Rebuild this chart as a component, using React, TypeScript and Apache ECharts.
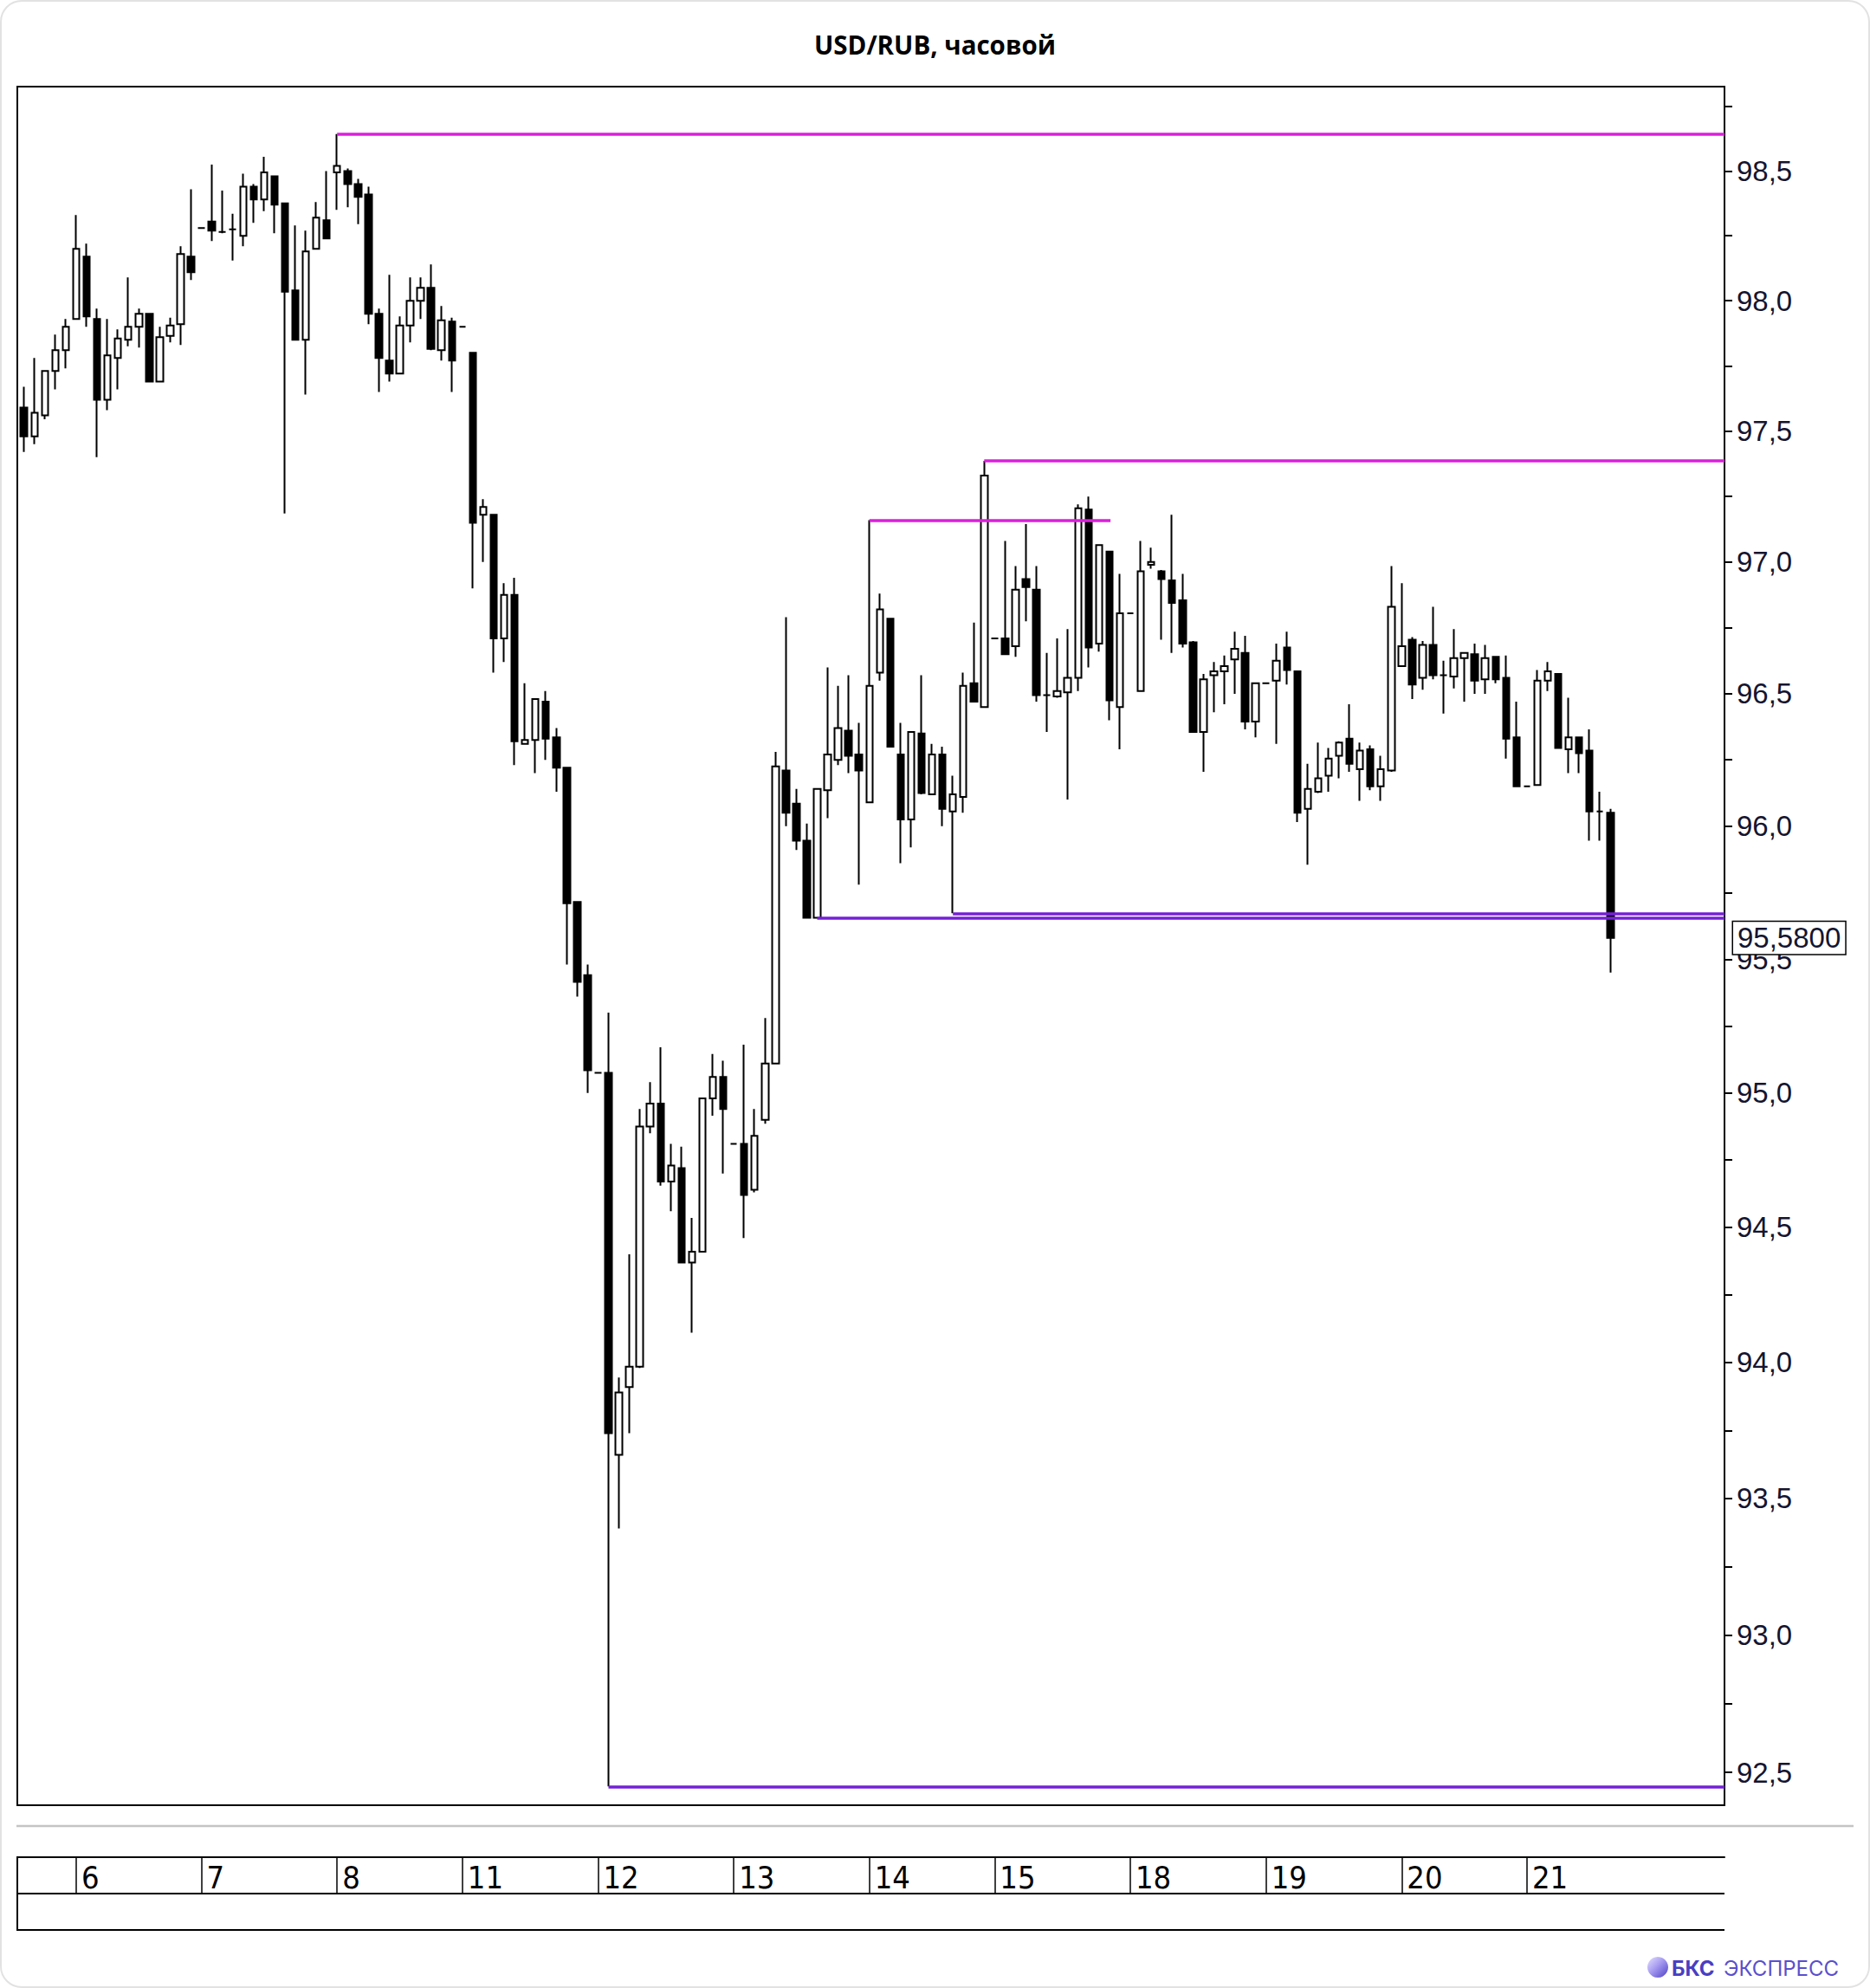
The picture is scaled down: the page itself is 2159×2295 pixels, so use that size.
import React, { useEffect, useRef } from "react";
import * as echarts from "echarts";

const TITLE = "USD/RUB, часовой";
const LAST_PRICE_LABEL = "95,5800";
const LAST_PRICE = 95.58;

const DAY_LABELS = ["6", "7", "8", "11", "12", "13", "14", "15", "18", "19", "20", "21"];
const DAY_START_INDEX = [5, 17, 30, 42, 55, 68, 81, 93, 106, 119, 132, 144];

const OPEN = [
  97.59, 97.48, 97.56, 97.73, 97.81, 97.93, 98.17, 97.93, 97.62, 97.78,
  97.85, 97.9, 97.95, 97.69, 97.865, 97.91, 98.17, 98.28, 98.305, 98.265,
  98.275, 98.25, 98.44, 98.39, 98.48, 98.375, 98.04, 97.85, 98.2, 98.31,
  98.495, 98.5, 98.45, 98.41, 97.95, 97.77, 97.72, 97.905, 98.0, 98.05,
  97.81, 97.92, 97.9, 97.8, 97.18, 97.18, 96.71, 96.875, 96.31, 96.325,
  96.47, 96.335, 96.22, 95.715, 95.44, 95.075, 95.075, 93.66, 93.91, 93.985,
  94.875, 94.96, 94.67, 94.72, 94.37, 94.41, 94.98, 95.06, 94.81, 94.81,
  94.64, 94.9, 95.11, 96.21, 96.085, 95.945, 95.655, 96.135, 96.25, 96.36,
  96.27, 96.09, 96.58, 96.785, 96.27, 96.025, 96.35, 96.12, 96.27, 96.055,
  96.11, 96.54, 96.45, 96.71, 96.71, 96.68, 96.935, 96.895, 96.495, 96.49,
  96.505, 96.56, 97.2, 96.69, 97.04, 96.45, 96.805, 96.51, 96.99, 96.965,
  96.93, 96.855, 96.695, 96.355, 96.57, 96.585, 96.63, 96.655, 96.395, 96.54,
  96.55, 96.675, 96.585, 96.065, 96.13, 96.19, 96.265, 96.33, 96.215, 96.29,
  96.15, 96.21, 96.605, 96.705, 96.56, 96.685, 96.57, 96.565, 96.635, 96.65,
  96.555, 96.64, 96.56, 96.335, 96.15, 96.155, 96.55, 96.575, 96.29, 96.335,
  96.285, 96.055, 96.05,
];
const CLOSE = [
  97.48, 97.57, 97.73, 97.81, 97.9, 98.2, 97.94, 97.62, 97.79, 97.855,
  97.9, 97.95, 97.69, 97.86, 97.905, 98.18, 98.11, 98.28, 98.27, 98.265,
  98.275, 98.44, 98.39, 98.495, 98.37, 98.035, 97.85, 98.19, 98.32, 98.24,
  98.52, 98.45, 98.4, 97.95, 97.78, 97.72, 97.905, 98.0, 98.05, 97.815,
  97.925, 97.77, 97.9, 97.15, 97.21, 96.71, 96.875, 96.32, 96.325, 96.48,
  96.33, 96.22, 95.71, 95.415, 95.085, 95.075, 93.74, 93.89, 93.985, 94.875,
  94.96, 94.67, 94.73, 94.37, 94.41, 94.98, 95.06, 94.94, 94.81, 94.62,
  94.84, 95.11, 96.225, 96.05, 95.945, 95.655, 96.14, 96.27, 96.37, 96.265,
  96.21, 96.53, 96.82, 96.3, 96.025, 96.355, 96.125, 96.27, 96.065, 96.12,
  96.53, 96.47, 97.33, 96.71, 96.65, 96.895, 96.905, 96.495, 96.495, 96.51,
  96.56, 97.205, 96.675, 97.065, 96.475, 96.805, 96.805, 96.965, 97.0, 96.935,
  96.845, 96.69, 96.355, 96.555, 96.585, 96.605, 96.67, 96.395, 96.54, 96.54,
  96.625, 96.59, 96.05, 96.14, 96.18, 96.255, 96.315, 96.235, 96.285, 96.15,
  96.215, 96.83, 96.68, 96.535, 96.685, 96.57, 96.57, 96.635, 96.655, 96.55,
  96.635, 96.555, 96.33, 96.15, 96.15, 96.55, 96.585, 96.295, 96.335, 96.275,
  96.055, 96.055, 95.58,
];
const LOW = [
  97.42, 97.45, 97.545, 97.66, 97.74, 97.93, 97.9, 97.4, 97.58, 97.66,
  97.825, 97.82, 97.687, 97.69, 97.84, 97.83, 98.08, 98.28, 98.23, 98.26,
  98.155, 98.21, 98.3, 98.345, 98.26, 97.185, 97.85, 97.64, 98.2, 98.24,
  98.35, 98.36, 98.295, 97.91, 97.65, 97.69, 97.72, 97.84, 97.93, 97.81,
  97.77, 97.65, 97.9, 96.9, 97.0, 96.58, 96.62, 96.23, 96.31, 96.2,
  96.25, 96.13, 95.48, 95.36, 95.0, 95.075, 92.449, 93.39, 93.74, 93.98,
  94.85, 94.655, 94.56, 94.37, 94.11, 94.41, 94.915, 94.7, 94.81, 94.46,
  94.63, 94.885, 95.11, 96.0, 95.91, 95.655, 95.655, 96.03, 96.23, 96.2,
  95.78, 96.09, 96.55, 96.3, 95.86, 95.92, 96.12, 96.12, 96.0, 95.672,
  96.05, 96.47, 96.45, 96.71, 96.65, 96.64, 96.775, 96.47, 96.355, 96.485,
  96.1, 96.51, 96.6, 96.66, 96.4, 96.29, 96.805, 96.51, 96.975, 96.705,
  96.655, 96.675, 96.355, 96.205, 96.43, 96.46, 96.5, 96.365, 96.335, 96.54,
  96.31, 96.535, 96.015, 95.855, 96.125, 96.13, 96.18, 96.205, 96.095, 96.135,
  96.095, 96.205, 96.605, 96.48, 96.515, 96.555, 96.425, 96.52, 96.47, 96.5,
  96.5, 96.54, 96.255, 96.15, 96.15, 96.155, 96.51, 96.295, 96.2, 96.2,
  95.945, 95.945, 95.45,
];
const HIGH = [
  97.67, 97.78, 97.73, 97.87, 97.93, 98.33, 98.22, 97.97, 97.93, 97.89,
  98.09, 97.97, 97.95, 97.9, 97.935, 98.21, 98.43, 98.28, 98.525, 98.425,
  98.335, 98.49, 98.45, 98.555, 98.48, 98.375, 98.29, 98.27, 98.38, 98.5,
  98.643, 98.51, 98.47, 98.44, 97.97, 98.1, 97.94, 98.09, 98.09, 98.14,
  97.98, 97.935, 97.9, 97.8, 97.24, 97.18, 96.92, 96.94, 96.54, 96.48,
  96.51, 96.37, 96.22, 95.715, 95.48, 95.075, 95.3, 93.945, 94.4, 94.94,
  95.04, 95.17, 94.81, 94.8, 94.535, 94.98, 95.145, 95.12, 94.81, 95.18,
  94.94, 95.28, 96.28, 96.79, 96.14, 96.01, 96.14, 96.6, 96.53, 96.57,
  96.39, 97.16, 96.88, 96.785, 96.39, 96.355, 96.57, 96.31, 96.3, 96.19,
  96.58, 96.77, 97.386, 96.71, 97.08, 96.985, 97.145, 96.985, 96.655, 96.71,
  96.745, 97.22, 97.25, 97.065, 97.04, 96.955, 96.805, 97.08, 97.055, 96.97,
  97.18, 96.955, 96.7, 96.575, 96.62, 96.645, 96.735, 96.72, 96.54, 96.54,
  96.69, 96.735, 96.585, 96.235, 96.315, 96.295, 96.32, 96.46, 96.315, 96.305,
  96.265, 96.985, 96.92, 96.715, 96.7, 96.83, 96.625, 96.745, 96.655, 96.69,
  96.685, 96.64, 96.645, 96.47, 96.15, 96.59, 96.62, 96.575, 96.485, 96.335,
  96.365, 96.13, 96.065,
];

// horizontal levels: start candle index, end candle index (null = right edge), price
const LEVEL_START = [30, 92, 81, 56, 76, 89];
const LEVEL_END = [null, null, 104.1, null, null, null];
const LEVEL_PRICE = [98.643, 97.386, 97.16, 92.449, 95.655, 95.672];
const LEVEL_KIND = ["res", "res", "res", "sup", "sup", "sup"];

const Y_LABELS = [92.5, 93, 93.5, 94, 94.5, 95, 95.5, 96, 96.5, 97, 97.5, 98, 98.5];
const Y_TICKS = [
  92.5, 92.75, 93, 93.25, 93.5, 93.75, 94, 94.25, 94.5, 94.75, 95, 95.25, 95.5,
  95.75, 96, 96.25, 96.5, 96.75, 97, 97.25, 97.5, 97.75, 98, 98.25, 98.5, 98.75,
];

const X_MIN = -0.643;
const X_MAX = 162.93;
const Y_MIN = 92.381;
const Y_MAX = 98.827;

const RES_COLOR = "#dc1edc";
const SUP_COLOR = "#7420d6";
const AXIS_FONT = "'Liberation Sans', Arial, sans-serif";

export default function App() {
  const ref = useRef<HTMLDivElement>(null);

  useEffect(() => {
    const el = ref.current;
    if (!el) return;
    const chart = echarts.init(el, null, { renderer: "svg" });

    const candles = OPEN.map((o, i) => [i, o, CLOSE[i], LOW[i], HIGH[i]]);

    const levelLines: any[] = LEVEL_PRICE.map((p, k) => [
      {
        coord: [LEVEL_START[k], p],
        lineStyle: {
          color: LEVEL_KIND[k] === "res" ? RES_COLOR : SUP_COLOR,
          width: 3.5,
          type: "solid",
        },
        label: { show: false },
      },
      { coord: [LEVEL_END[k] == null ? X_MAX : LEVEL_END[k], p] },
    ]);

    const priceTag = {
      yAxis: LAST_PRICE,
      lineStyle: { color: "rgba(0,0,0,0)", width: 0 },
      label: {
        show: true,
        position: "end",
        distance: 10,
        formatter: LAST_PRICE_LABEL,
        fontSize: 33,
        fontFamily: AXIS_FONT,
        color: "#151530",
        backgroundColor: "#ffffff",
        borderColor: "#000000",
        borderWidth: 1.5,
        padding: [3, 5, 1, 5],
      },
    };

    const option: any = {
      animation: false,
      backgroundColor: "#ffffff",
      grid: {
        left: 20,
        top: 100,
        width: 1971,
        height: 1984,
        show: true,
        borderColor: "#000000",
        borderWidth: 2,
        backgroundColor: "transparent",
      },
      xAxis: {
        type: "value",
        min: X_MIN,
        max: X_MAX,
        position: "bottom",
        offset: 60,
        splitLine: { show: false },
        axisLine: { show: true, onZero: false, lineStyle: { color: "#000", width: 2 } },
        axisTick: {
          show: true,
          customValues: DAY_START_INDEX,
          length: 42,
          inside: false,
          lineStyle: { color: "#000", width: 1.5 },
        },
        axisLabel: {
          show: true,
          customValues: DAY_START_INDEX,
          formatter: (v: number) => {
            const k = DAY_START_INDEX.indexOf(Math.round(v));
            return k >= 0 ? DAY_LABELS[k] : "";
          },
          align: "left",
          margin: 5,
          padding: [0, 0, 0, 6],
          fontSize: 36,
          color: "#000",
          fontFamily: "'Liberation Sans Narrow', 'DejaVu Sans Condensed', 'Arial Narrow', sans-serif",
        },
      },
      yAxis: {
        type: "log",
        logBase: 10,
        position: "right",
        min: Y_MIN,
        max: Y_MAX,
        splitLine: { show: false },
        minorTick: { show: false },
        axisLine: { show: true, onZero: false, lineStyle: { color: "#000", width: 2 } },
        axisTick: {
          show: true,
          customValues: Y_TICKS,
          length: 9,
          inside: false,
          lineStyle: { color: "#000", width: 2 },
        },
        axisLabel: {
          show: true,
          customValues: Y_LABELS,
          formatter: (v: number) => v.toFixed(1).replace(".", ","),
          fontSize: 33,
          margin: 14,
          color: "#151530",
          fontFamily: AXIS_FONT,
        },
      },
      graphic: [
        {
          type: "rect",
          z: -10,
          shape: { x: 1, y: 1, width: 2157, height: 2293, r: 24 },
          style: { fill: "none", stroke: "#e2e2e2", lineWidth: 2 },
          silent: true,
        },
        {
          type: "text",
          x: 1079.5,
          y: 51,
          style: {
            text: TITLE,
            align: "center",
            verticalAlign: "middle",
            fontFamily: "'Open Sans', 'Noto Sans', sans-serif",
            fontWeight: "bold",
            fontSize: 29.5,
            fill: "#000",
          },
        },
        {
          type: "line",
          shape: { x1: 19, y1: 2108, x2: 2140, y2: 2108 },
          style: { stroke: "#c4c4c4", lineWidth: 2.5 },
        },
        {
          type: "line",
          shape: { x1: 20, y1: 2186, x2: 1991, y2: 2186 },
          style: { stroke: "#000", lineWidth: 2 },
        },
        {
          type: "line",
          shape: { x1: 20, y1: 2228, x2: 1991, y2: 2228 },
          style: { stroke: "#000", lineWidth: 2 },
        },
        {
          type: "line",
          shape: { x1: 20, y1: 2143, x2: 20, y2: 2229 },
          style: { stroke: "#000", lineWidth: 2 },
        },
        {
          type: "circle",
          shape: { cx: 1914, cy: 2271, r: 12 },
          style: {
            fill: new echarts.graphic.LinearGradient(0, 0, 1, 1, [
              { offset: 0, color: "#e6e2ff" },
              { offset: 0.45, color: "#a79cf0" },
              { offset: 1, color: "#4e3fc6" },
            ]),
          },
        },
        {
          type: "text",
          x: 1930,
          y: 2272,
          style: {
            text: "БКС",
            verticalAlign: "middle",
            fontFamily: "Inter, Roboto, sans-serif",
            fontWeight: "bold",
            fontSize: 24,
            fill: "#4a3ec2",
          },
        },
        {
          type: "text",
          x: 1990,
          y: 2272,
          style: {
            text: "ЭКСПРЕСС",
            verticalAlign: "middle",
            fontFamily: "Inter, Roboto, sans-serif",
            fontSize: 24,
            fill: "#5a4fcc",
          },
        },
      ],
      series: [
        {
          type: "candlestick",
          data: candles,
          barWidth: 8,
          itemStyle: {
            color: "#ffffff",
            color0: "#000000",
            borderColor: "#000000",
            borderColor0: "#000000",
            borderWidth: 2,
          },
          emphasis: { disabled: true },
          markLine: {
            silent: true,
            symbol: ["none", "none"],
            animation: false,
            emphasis: { disabled: true },
            label: { show: false },
            data: [...levelLines, priceTag],
          },
        },
      ],
    };

    chart.setOption(option);
    return () => {
      chart.dispose();
    };
  }, []);

  return (
    <div
      ref={ref}
      style={{ position: "absolute", left: 0, top: 0, width: 2159, height: 2295, background: "#fff" }}
    />
  );
}
